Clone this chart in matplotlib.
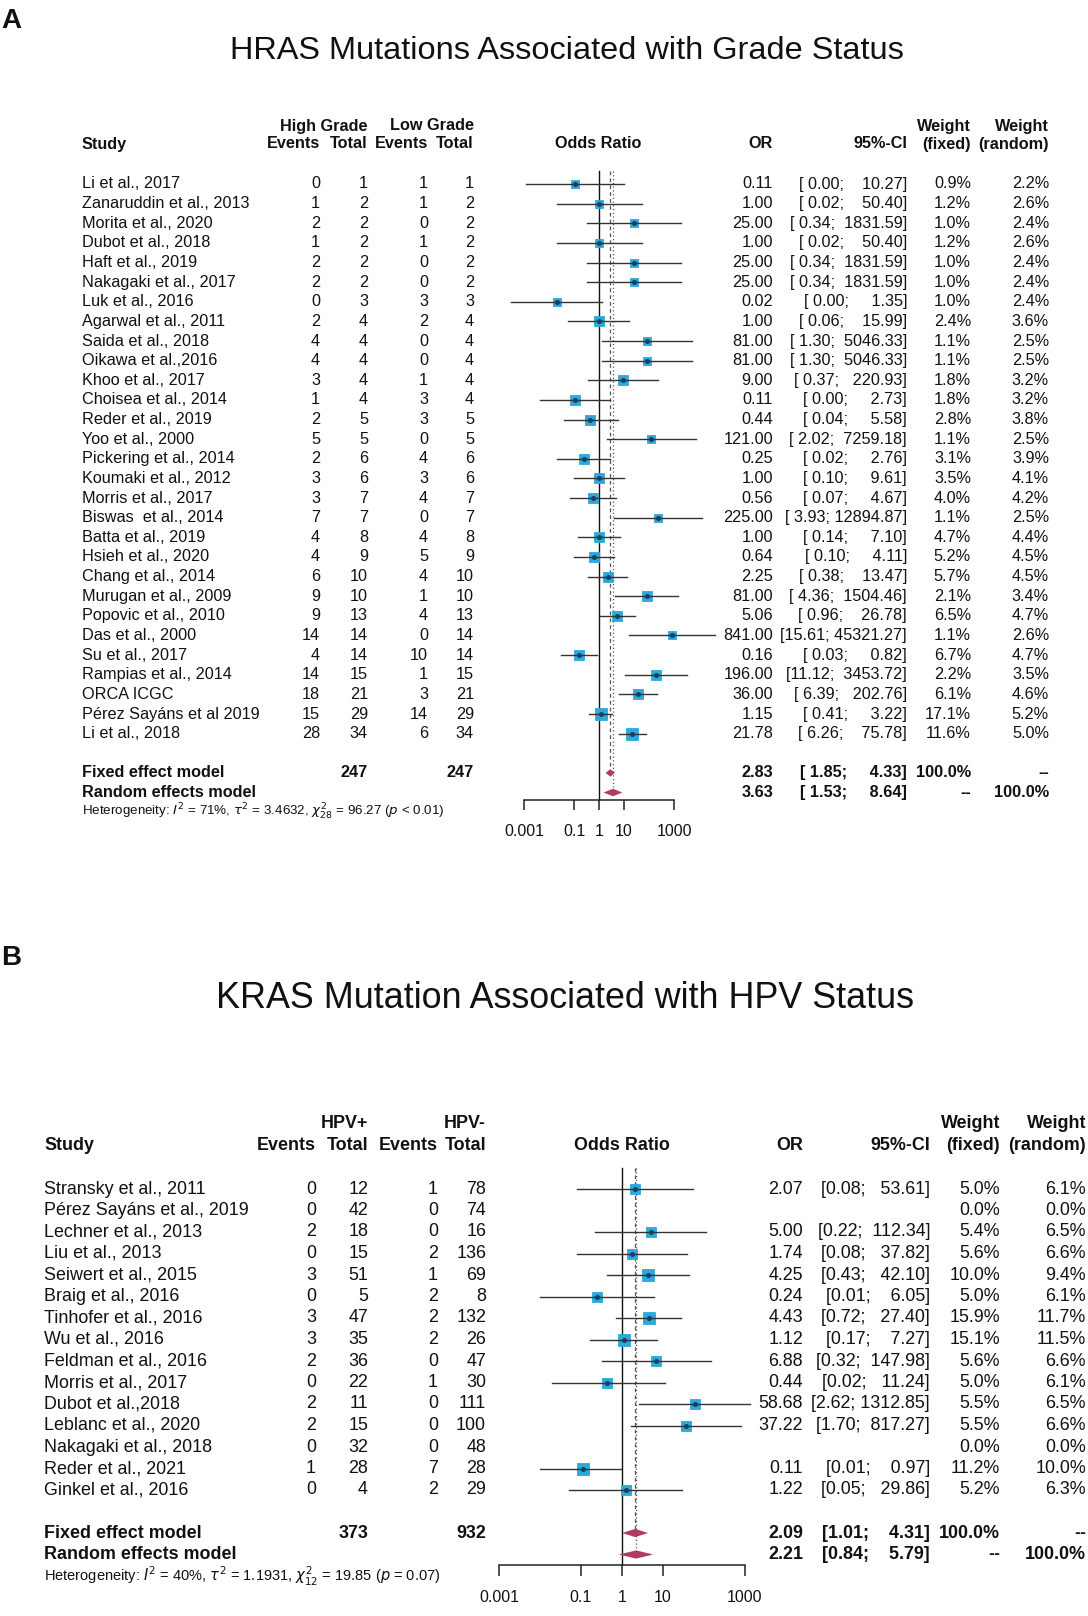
import matplotlib
matplotlib.use('Agg')
import matplotlib.pyplot as plt
import numpy as np
from matplotlib.transforms import blended_transform_factory
from matplotlib.ticker import NullLocator

plt.rcParams['font.family'] = ['Liberation Sans', 'DejaVu Sans']

# ------------------------------------------------------------------ data A
studies_a = ["Li et al., 2017", "Zanaruddin et al., 2013", "Morita et al., 2020", "Dubot et al., 2018",
             "Haft et al., 2019", "Nakagaki et al., 2017", "Luk et al., 2016", "Agarwal et al., 2011",
             "Saida et al., 2018", "Oikawa et al.,2016", "Khoo et al., 2017", "Choisea et al., 2014",
             "Reder et al., 2019", "Yoo et al., 2000", "Pickering et al., 2014", "Koumaki et al., 2012",
             "Morris et al., 2017", "Biswas  et al., 2014", "Batta et al., 2019", "Hsieh et al., 2020",
             "Chang et al., 2014", "Murugan et al., 2009", "Popovic et al., 2010", "Das et al., 2000",
             "Su et al., 2017", "Rampias et al., 2014", "ORCA ICGC", "Pérez Sayáns et al 2019",
             "Li et al., 2018"]
ev1_a = [0, 1, 2, 1, 2, 2, 0, 2, 4, 4, 3, 1, 2, 5, 2, 3, 3, 7, 4, 4, 6, 9, 9, 14, 4, 14, 18, 15, 28]
tot1_a = [1, 2, 2, 2, 2, 2, 3, 4, 4, 4, 4, 4, 5, 5, 6, 6, 7, 7, 8, 9, 10, 10, 13, 14, 14, 15, 21, 29, 34]
ev2_a = [1, 1, 0, 1, 0, 0, 3, 2, 0, 0, 1, 3, 3, 0, 4, 3, 4, 0, 4, 5, 4, 1, 4, 0, 10, 1, 3, 14, 6]
tot2_a = [1, 2, 2, 2, 2, 2, 3, 4, 4, 4, 4, 4, 5, 5, 6, 6, 7, 7, 8, 9, 10, 10, 13, 14, 14, 15, 21, 29, 34]
or_a = [0.11, 1.00, 25.00, 1.00, 25.00, 25.00, 0.02, 1.00, 81.00, 81.00, 9.00, 0.11, 0.44, 121.00,
        0.25, 1.00, 0.56, 225.00, 1.00, 0.64, 2.25, 81.00, 5.06, 841.00, 0.16, 196.00, 36.00, 1.15, 21.78]
lo_a = [0.0012, 0.02, 0.34, 0.02, 0.34, 0.34, 0.0003, 0.06, 1.30, 1.30, 0.37, 0.0044, 0.04, 2.02,
        0.02, 0.10, 0.07, 3.93, 0.14, 0.10, 0.38, 4.36, 0.96, 15.61, 0.03, 11.12, 6.39, 0.41, 6.26]
hi_a = [10.27, 50.40, 1831.59, 50.40, 1831.59, 1831.59, 1.35, 15.99, 5046.33, 5046.33, 220.93, 2.73,
        5.58, 7259.18, 2.76, 9.61, 4.67, 12894.87, 7.10, 4.11, 13.47, 1504.46, 26.78, 45321.27, 0.82,
        3453.72, 202.76, 3.22, 75.78]
wf_a = [0.9, 1.2, 1.0, 1.2, 1.0, 1.0, 1.0, 2.4, 1.1, 1.1, 1.8, 1.8, 2.8, 1.1, 3.1, 3.5, 4.0, 1.1, 4.7,
        5.2, 5.7, 2.1, 6.5, 1.1, 6.7, 2.2, 6.1, 17.1, 11.6]
wr_a = [2.2, 2.6, 2.4, 2.6, 2.4, 2.4, 2.4, 3.6, 2.5, 2.5, 3.2, 3.2, 3.8, 2.5, 3.9, 4.1, 4.2, 2.5, 4.4,
        4.5, 4.5, 3.4, 4.7, 2.6, 4.7, 3.5, 4.6, 5.2, 5.0]
totals_a = [247, 247]
fixed_a = [2.83, 1.85, 4.33]
random_a = [3.63, 1.53, 8.64]
het_a = r"Heterogeneity: $I^2$ = 71%, $\tau^2$ = 3.4632, $\chi^2_{28}$ = 96.27 ($p$ < 0.01)"
group_a = ["High Grade", "Low Grade"]
title_a = "HRAS Mutations Associated with Grade Status"

# ------------------------------------------------------------------ data B
studies_b = ["Stransky et al., 2011", "Pérez Sayáns et al., 2019", "Lechner et al., 2013", "Liu et al., 2013",
             "Seiwert et al., 2015", "Braig et al., 2016", "Tinhofer et al., 2016", "Wu et al., 2016",
             "Feldman et al., 2016", "Morris et al., 2017", "Dubot et al.,2018", "Leblanc et al., 2020",
             "Nakagaki et al., 2018", "Reder et al., 2021", "Ginkel et al., 2016"]
ev1_b = [0, 0, 2, 0, 3, 0, 3, 3, 2, 0, 2, 2, 0, 1, 0]
tot1_b = [12, 42, 18, 15, 51, 5, 47, 35, 36, 22, 11, 15, 32, 28, 4]
ev2_b = [1, 0, 0, 2, 1, 2, 2, 2, 0, 1, 0, 0, 0, 7, 2]
tot2_b = [78, 74, 16, 136, 69, 8, 132, 26, 47, 30, 111, 100, 48, 28, 29]
or_b = [2.07, None, 5.00, 1.74, 4.25, 0.24, 4.43, 1.12, 6.88, 0.44, 58.68, 37.22, None, 0.11, 1.22]
lo_b = [0.08, None, 0.22, 0.08, 0.43, 0.01, 0.72, 0.17, 0.32, 0.02, 2.62, 1.70, None, 0.01, 0.05]
hi_b = [53.61, None, 112.34, 37.82, 42.10, 6.05, 27.40, 7.27, 147.98, 11.24, 1312.85, 817.27, None, 0.97, 29.86]
wf_b = [5.0, 0.0, 5.4, 5.6, 10.0, 5.0, 15.9, 15.1, 5.6, 5.0, 5.5, 5.5, 0.0, 11.2, 5.2]
wr_b = [6.1, 0.0, 6.5, 6.6, 9.4, 6.1, 11.7, 11.5, 6.6, 6.1, 6.5, 6.6, 0.0, 10.0, 6.3]
totals_b = [373, 932]
fixed_b = [2.09, 1.01, 4.31]
random_b = [2.21, 0.84, 5.79]
het_b = r"Heterogeneity: $I^2$ = 40%, $\tau^2$ = 1.1931, $\chi^2_{12}$ = 19.85 ($p$ = 0.07)"
group_b = ["HPV+", "HPV-"]
title_b = "KRAS Mutation Associated with HPV Status"

tick_vals = [0.001, 0.1, 1, 10, 1000]
tick_labels = ["0.001", "0.1", "1", "10", "1000"]

# ------------------------------------------------------------------ drawing
W, H = 1088, 1616
fig = plt.figure(figsize=(W / 100, H / 100), dpi=100)
fig.patch.set_facecolor('white')

SQ_COL = '#2CA8DA'
DOT_COL = '#173F66'
DIA_COL = '#B03A66'
TXT = '#111111'


def fy(p):
    return 1 - p / H


def fx(p):
    return p / W


def panel(L, studies, ev1, tot1, ev2, tot2, ors, los, his, wf, wr, totals, fixed, rand, het,
          group, title, letter):
    fs = L['fs']
    y0, dy = L['y0'], L['dy']
    row = lambda p: (p - y0) / dy
    ax = fig.add_axes([fx(L['fx0']), fy(L['ybot']), fx(L['fx1'] - L['fx0']), (L['ybot'] - L['ytop']) / H])
    ax.set_xscale('log')
    ax.set_xlim(0.001, 1000)
    ax.set_ylim(row(L['ybot']), row(L['ytop']))
    ax.patch.set_alpha(0)
    for s in ['left', 'right', 'top']:
        ax.spines[s].set_visible(False)
    axis_row = row(L['yaxis'])
    ax.spines['bottom'].set_position(('data', axis_row))
    ax.spines['bottom'].set_linewidth(1.1)
    ax.spines['bottom'].set_color('#222222')
    ax.set_yticks([])
    ax.set_xticks(tick_vals)
    ax.set_xticklabels(tick_labels)
    ax.xaxis.set_minor_locator(NullLocator())
    ax.tick_params(axis='x', direction='out', length=L['tlen'], width=1.1, color='#222222',
                   pad=L['tpad'], labelsize=L['tfs'], labelcolor=TXT)

    n = len(studies)
    r_fix, r_ran, r_het = n + 1, n + 2, n + 3
    top = L['top']
    hd = 0.19
    # reference lines
    ax.plot([1, 1], [top, axis_row], color='#111111', lw=1.0, zorder=1)
    ax.plot([fixed[0]] * 2, [top, r_fix - hd], color='#555555', lw=0.9, ls=(0, (3, 2.5)), zorder=1)
    ax.plot([rand[0]] * 2, [top, r_ran - hd], color='#555555', lw=0.9, ls=(0, (1, 2)), zorder=1)

    wmax = max(wr)
    for i in range(n):
        if ors[i] is None:
            continue
        side = L['smax'] * np.sqrt(wr[i] / wmax)
        ax.plot([ors[i]], [i], marker='s', ms=side * 0.72, color=SQ_COL, mec=SQ_COL, mew=0.6,
                ls='none', zorder=2, clip_on=False)
        ax.plot([los[i], his[i]], [i, i], color='#333333', lw=1.0, zorder=3, clip_on=False)
        ax.plot([ors[i]], [i], marker='o', ms=2.6, color=DOT_COL, ls='none', zorder=4, clip_on=False)
    for r, (est, lo, hi) in [(r_fix, fixed), (r_ran, rand)]:
        ax.fill([lo, est, hi, est], [r, r - hd, r, r + hd], color=DIA_COL, lw=0, zorder=3)

    tr = blended_transform_factory(fig.transFigure, ax.transData)

    def t(xp, r, s, ha='right', bold=False, size=None):
        fig.text(fx(xp), r, s, transform=tr, ha=ha, va='center', fontsize=size or fs,
                 fontweight='bold' if bold else 'normal', color=TXT)

    def th(xp, yp, s, ha='right', bold=True, size=None):
        fig.text(fx(xp), fy(yp), s, ha=ha, va='center', fontsize=size or fs,
                 fontweight='bold' if bold else 'normal', color=TXT)

    # CI strings padded like R's meta output
    lows = [v for v in los if v is not None] + [fixed[1], rand[1]]
    highs = [v for v in his if v is not None] + [fixed[2], rand[2]]
    lw_ = max(len(f"{v:.2f}") for v in lows)
    hw_ = max(len(f"{v:.2f}") for v in highs)

    def ci(lo, hi):
        return f"[{lo:{lw_}.2f}; {hi:{hw_}.2f}]"

    # letter and title
    th(L['letter_x'], L['letter_y'], letter, ha='left', size=20)
    th(L['title_x'], L['title_y'], title, ha='center', bold=False, size=L['title_fs'])
    # header
    h1, h2 = L['h1'], L['h2']
    th(L['x_study'], h2, "Study", ha='left')
    th(L['x_tot1'], h1, group[0])
    th(L['x_tot2'], h1, group[1])
    th(L['x_ev1'], h2, "Events")
    th(L['x_tot1'], h2, "Total")
    th(L['x_ev2'], h2, "Events")
    th(L['x_tot2'], h2, "Total")
    th(L['x_forest_c'], h2, "Odds Ratio", ha='center')
    th(L['x_or'], h2, "OR")
    th(L['x_ci'], h2, "95%-CI")
    th(L['x_wf'], h1, "Weight")
    th(L['x_wf'], h2, "(fixed)")
    th(L['x_wr'], h1, "Weight")
    th(L['x_wr'], h2, "(random)")

    for i in range(n):
        t(L['x_study'], i, studies[i], ha='left')
        t(L['x_ev1'], i, str(ev1[i]))
        t(L['x_tot1'], i, str(tot1[i]))
        t(L['x_ev2'], i, str(ev2[i]))
        t(L['x_tot2'], i, str(tot2[i]))
        if ors[i] is not None:
            t(L['x_or'], i, f"{ors[i]:.2f}")
            t(L['x_ci'], i, ci(los[i], his[i]))
        t(L['x_wf'], i, f"{wf[i]:.1f}%")
        t(L['x_wr'], i, f"{wr[i]:.1f}%")

    for r, lab, est in [(r_fix, "Fixed effect model", fixed), (r_ran, "Random effects model", rand)]:
        t(L['x_study'], r, lab, ha='left', bold=True)
        t(L['x_or'], r, f"{est[0]:.2f}", bold=True)
        t(L['x_ci'], r, ci(est[1], est[2]), bold=True)
    t(L['x_tot1'], r_fix, str(totals[0]), bold=True)
    t(L['x_tot2'], r_fix, str(totals[1]), bold=True)
    t(L['x_wf'], r_fix, "100.0%", bold=True)
    t(L['x_wr'], r_fix, "--", bold=True)
    t(L['x_wf'], r_ran, "--", bold=True)
    t(L['x_wr'], r_ran, "100.0%", bold=True)
    t(L['x_study'], r_het, het, ha='left', size=L['het_fs'])


LA = dict(fs=11.7, tfs=11.5, title_fs=23.4, y0=184, dy=19.63, ytop=150, ybot=850, yaxis=800,
          fx0=524, fx1=674, tlen=7, tpad=10.5, smax=11.5, top=-0.65,
          letter_x=1, letter_y=21, title_x=567, title_y=51, h1=126, h2=144,
          x_study=82, x_ev1=320, x_tot1=368, x_ev2=428, x_tot2=474, x_forest_c=598,
          x_or=773, x_ci=907, x_wf=971, x_wr=1049, het_fs=9.6)
LB = dict(fs=12.9, tfs=11.5, title_fs=25.8, y0=1189, dy=21.5, ytop=1150, ybot=1616, yaxis=1565,
          fx0=499, fx1=745, tlen=8, tpad=10, smax=12.5, top=-1.0,
          letter_x=1, letter_y=958, title_x=565, title_y=998, h1=1123, h2=1145,
          x_study=44, x_ev1=316, x_tot1=368, x_ev2=438, x_tot2=486, x_forest_c=622,
          x_or=803, x_ci=930, x_wf=1000, x_wr=1086, het_fs=10.5)

panel(LA, studies_a, ev1_a, tot1_a, ev2_a, tot2_a, or_a, lo_a, hi_a, wf_a, wr_a, totals_a,
      fixed_a, random_a, het_a, group_a, title_a, "A")
panel(LB, studies_b, ev1_b, tot1_b, ev2_b, tot2_b, or_b, lo_b, hi_b, wf_b, wr_b, totals_b,
      fixed_b, random_b, het_b, group_b, title_b, "B")

fig.savefig('out.png', dpi=100, facecolor='white')
